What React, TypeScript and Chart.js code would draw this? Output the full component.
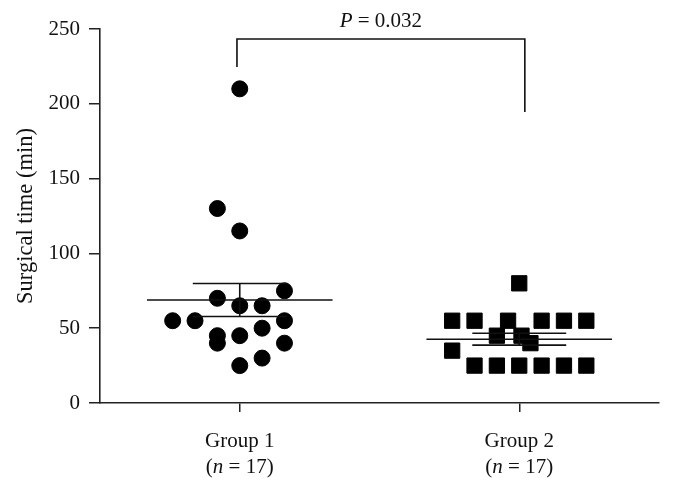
import React, { useEffect, useRef } from 'react';
import { Chart, registerables } from 'chart.js';

Chart.register(...registerables);

// ---- data ----
const categories = ['Group 1', 'Group 2'];
const groupSizes = [17, 17];
const group1Values = [210, 130, 115, 75, 70, 65, 65, 55, 55, 55, 50, 45, 45, 40, 40, 30, 25];
const group1Slots = [0, -1, 0, 2, -1, 0, 1, -3, -2, 2, 1, -1, 0, -1, 2, 1, 0];
const group2Values = [80, 55, 55, 55, 55, 55, 55, 35, 45, 45, 40, 25, 25, 25, 25, 25, 25];
const group2Slots = [0, -3, -2, -0.5, 1, 2, 3, -3, -1, 0.1, 0.5, -2, -1, 0, 1, 2, 3];
const yTicks = [0, 50, 100, 150, 200, 250];
const yTitle = 'Surgical time (min)';
const pLabel = 'P';
const pValueRest = ' = 0.032';
const bracketXs = [0.99, 0.99, 2.02, 2.02];
const bracketYs = [224.6, 243.3, 243.3, 194.5];

// ---- style constants ----
const SLOT = 0.08;
const MEAN_HALF = 0.332;
const SEM_HALF = 0.168;
const FONT = '"Liberation Serif", "Times New Roman", serif';
const FS = 21;
const TITLE_FS = 22.5;

function mean(a: number[]) {
  return a.reduce((s, v) => s + v, 0) / a.length;
}
function sem(a: number[]) {
  const m = mean(a);
  const v = a.reduce((s, x) => s + (x - m) * (x - m), 0) / (a.length - 1);
  return Math.sqrt(v) / Math.sqrt(a.length);
}

function seg(points: { x: number; y: number }[]) {
  return {
    type: 'scatter' as const,
    data: points,
    showLine: true,
    borderColor: '#111',
    borderWidth: 1.6,
    pointRadius: 0,
    pointHoverRadius: 0,
    fill: false,
  };
}

function summaryLines(values: number[], center: number) {
  const m = mean(values);
  const s = sem(values);
  return [
    seg([{ x: center - MEAN_HALF, y: m }, { x: center + MEAN_HALF, y: m }]),
    seg([{ x: center - SEM_HALF, y: m + s }, { x: center + SEM_HALF, y: m + s }]),
    seg([{ x: center - SEM_HALF, y: m - s }, { x: center + SEM_HALF, y: m - s }]),
    seg([{ x: center, y: m - s }, { x: center, y: m + s }]),
  ];
}

function drawParts(ctx: CanvasRenderingContext2D, parts: [string, boolean][], cx: number, baseline: number) {
  let total = 0;
  const widths = parts.map(([t, it]) => {
    ctx.font = `${it ? 'italic ' : ''}${FS}px ${FONT}`;
    const w = ctx.measureText(t).width;
    total += w;
    return w;
  });
  let x = cx - total / 2;
  ctx.textAlign = 'left';
  ctx.textBaseline = 'alphabetic';
  parts.forEach(([t, it], i) => {
    ctx.font = `${it ? 'italic ' : ''}${FS}px ${FONT}`;
    ctx.fillText(t, x, baseline);
    x += widths[i];
  });
}

const labelPlugin = {
  id: 'customLabels',
  afterDraw(chart: any) {
    const ctx: CanvasRenderingContext2D = chart.ctx;
    const xs = chart.scales.x;
    const ys = chart.scales.y;
    ctx.save();
    ctx.fillStyle = '#111';
    categories.forEach((c, i) => {
      const cx = xs.getPixelForValue(i + 1);
      ctx.font = `${FS}px ${FONT}`;
      ctx.textAlign = 'center';
      ctx.textBaseline = 'alphabetic';
      ctx.fillText(c, cx, xs.bottom - 36);
      drawParts(ctx, [['(', false], ['n', true], [` = ${groupSizes[i]})`, false]], cx, xs.bottom - 10);
    });
    const px = xs.getPixelForValue((bracketXs[0] + bracketXs[3]) / 2);
    const py = ys.getPixelForValue(bracketYs[1]) - 12.5;
    drawParts(ctx, [[pLabel, true], [pValueRest, false]], px, py);
    ctx.restore();
  },
};

export default function App() {
  const ref = useRef<HTMLCanvasElement>(null);
  useEffect(() => {
    if (!ref.current) return;
    const g1 = group1Values.map((v, i) => ({ x: 1 + group1Slots[i] * SLOT, y: v }));
    const g2 = group2Values.map((v, i) => ({ x: 2 + group2Slots[i] * SLOT, y: v }));
    const chart = new Chart(ref.current, {
      type: 'scatter',
      data: {
        datasets: [
          ...summaryLines(group1Values, 1),
          ...summaryLines(group2Values, 2),
          seg(bracketXs.map((x, i) => ({ x, y: bracketYs[i] }))),
          {
            type: 'scatter',
            data: g1,
            pointStyle: 'circle',
            pointRadius: 8,
            backgroundColor: '#000',
            borderColor: '#000',
            borderWidth: 1,
          },
          {
            type: 'scatter',
            data: g2,
            pointStyle: 'rect',
            pointRadius: 10.8,
            backgroundColor: '#000',
            borderColor: '#000',
            borderWidth: 1,
          },
        ] as any,
      },
      options: {
        animation: false,
        responsive: false,
        devicePixelRatio: 1,
        layout: { padding: { top: 29, right: 15, left: 0, bottom: 0 } },
        plugins: { legend: { display: false }, tooltip: { enabled: false } },
        scales: {
          x: {
            type: 'linear',
            min: 0.5,
            max: 2.5,
            afterBuildTicks: (s: any) => {
              s.ticks = categories.map((_, i) => ({ value: i + 1 }));
            },
            afterFit: (s: any) => {
              s.height = 80;
            },
            grid: { drawOnChartArea: false, drawTicks: true, tickLength: 9, color: '#222', lineWidth: 1.5 },
            border: { display: true, color: '#222', width: 1.6 },
            ticks: { display: false },
          },
          y: {
            type: 'linear',
            min: 0,
            max: 250,
            afterBuildTicks: (s: any) => {
              s.ticks = yTicks.map((v) => ({ value: v }));
            },
            afterFit: (s: any) => {
              s.width = 100;
            },
            grid: { drawOnChartArea: false, drawTicks: true, tickLength: 11, color: '#222', lineWidth: 1.5 },
            border: { display: true, color: '#222', width: 1.6 },
            ticks: {
              color: '#111',
              padding: 9,
              font: { family: FONT, size: FS },
            },
            title: {
              display: true,
              text: yTitle,
              color: '#111',
              font: { family: FONT, size: TITLE_FS },
              padding: { top: 13, bottom: 0 },
            },
          },
        },
      },
      plugins: [labelPlugin],
    });
    return () => chart.destroy();
  }, []);
  return (
    <div style={{ position: 'fixed', left: 0, top: 0, width: 674, height: 483, background: '#fff' }}>
      <canvas ref={ref} width={674} height={483} />
    </div>
  );
}
